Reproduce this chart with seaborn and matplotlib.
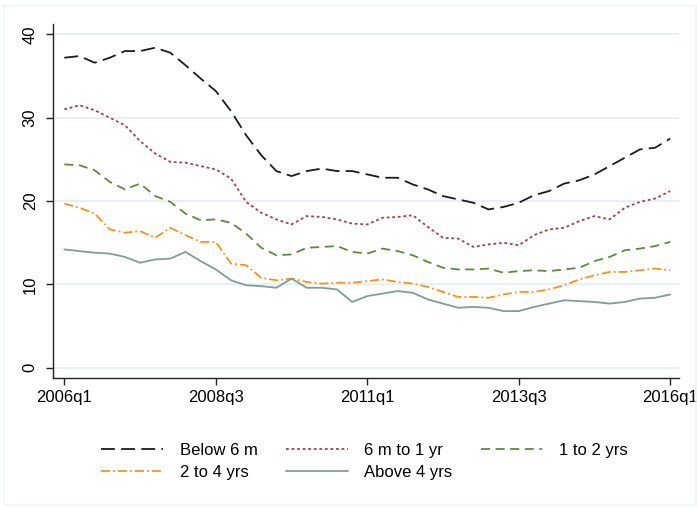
import numpy as np
import pandas as pd
import matplotlib.pyplot as plt
import matplotlib.patches as patches
import seaborn as sns

# series names (legend order)
groups = ["Below 6 m", "6 m to 1 yr", "1 to 2 yrs", "2 to 4 yrs", "Above 4 yrs"]

# quarterly values 2006q1 .. 2016q1 (41 quarters)
below_6m = [37.2, 37.4, 36.6, 37.2, 38.0, 38.0, 38.4, 37.8, 36.3, 34.7, 33.2, 30.8, 27.9, 25.5,
            23.6, 23.0, 23.6, 23.9, 23.6, 23.6, 23.2, 22.8, 22.8, 22.0, 21.4, 20.6, 20.2, 19.8,
            19.0, 19.3, 19.8, 20.7, 21.2, 22.1, 22.5, 23.2, 24.2, 25.2, 26.2, 26.4, 27.5]
m6_to_1y = [31.0, 31.5, 30.9, 30.0, 29.1, 27.2, 25.7, 24.7, 24.6, 24.2, 23.8, 22.7, 19.9, 18.6,
            17.8, 17.2, 18.2, 18.1, 17.8, 17.3, 17.2, 18.0, 18.1, 18.3, 16.9, 15.6, 15.5, 14.5,
            14.8, 15.0, 14.7, 15.9, 16.6, 16.8, 17.6, 18.2, 17.8, 19.2, 19.9, 20.3, 21.2]
y1_to_2 = [24.4, 24.3, 23.7, 22.3, 21.4, 22.1, 20.6, 19.9, 18.5, 17.7, 17.8, 17.4, 16.1, 14.4,
           13.5, 13.6, 14.4, 14.5, 14.6, 13.9, 13.7, 14.3, 14.0, 13.5, 12.7, 12.0, 11.8, 11.8,
           11.9, 11.4, 11.6, 11.7, 11.6, 11.8, 12.0, 12.8, 13.3, 14.1, 14.3, 14.6, 15.1]
y2_to_4 = [19.7, 19.2, 18.5, 16.6, 16.2, 16.4, 15.6, 16.8, 15.9, 15.1, 15.1, 12.5, 12.3, 10.8,
           10.5, 10.7, 10.3, 10.1, 10.2, 10.2, 10.4, 10.6, 10.3, 10.1, 9.7, 9.1, 8.5, 8.5,
           8.4, 8.8, 9.1, 9.1, 9.4, 9.9, 10.6, 11.1, 11.5, 11.5, 11.7, 11.9, 11.7]
above_4y = [14.2, 14.0, 13.8, 13.7, 13.3, 12.6, 13.0, 13.1, 13.9, 12.8, 11.8, 10.5, 9.9, 9.8,
            9.6, 10.7, 9.6, 9.6, 9.4, 7.9, 8.6, 8.9, 9.2, 9.0, 8.2, 7.7, 7.2, 7.3,
            7.2, 6.8, 6.8, 7.3, 7.7, 8.1, 8.0, 7.9, 7.7, 7.9, 8.3, 8.4, 8.8]

quarters = [f"{y}q{q}" for y in range(2006, 2017) for q in range(1, 5)][:41]
tick_labels = ["2006q1", "2008q3", "2011q1", "2013q3", "2016q1"]
y_ticks = [0, 10, 20, 30, 40]

series = [below_6m, m6_to_1y, y1_to_2, y2_to_4, above_4y]
df = pd.concat([
    pd.DataFrame({"t": np.arange(len(quarters)), "quarter": quarters, "value": vals, "group": g})
    for g, vals in zip(groups, series)
], ignore_index=True)

colors = {"Below 6 m": "#1c1c1c", "6 m to 1 yr": "#a4404b", "1 to 2 yrs": "#5e8a3e",
          "2 to 4 yrs": "#f29424", "Above 4 yrs": "#7e9e97"}
dashes = {"Below 6 m": (10, 4.5), "6 m to 1 yr": (2, 2), "1 to 2 yrs": (6.5, 4),
          "2 to 4 yrs": (6.5, 2.2, 1.3, 2.2), "Above 4 yrs": ""}

sns.set_style("ticks")
plt.rcParams['font.family'] = ['Liberation Sans', 'DejaVu Sans']
plt.rcParams['lines.scale_dashes'] = False
plt.rcParams['text.color'] = 'black'

fig = plt.figure(figsize=(6.97, 5.08), dpi=100)
ax = fig.add_axes([0.076, 0.2565, 0.898, 0.6955])

sns.lineplot(data=df, x="t", y="value", hue="group", style="group",
             hue_order=groups, style_order=groups, palette=colors, dashes=dashes,
             linewidth=1.3, ax=ax)

ax.set_xlim(-0.75, 40.57)
ax.set_ylim(-1.19, 41.2)
ax.set_xticks([quarters.index(l) for l in tick_labels])
ax.set_xticklabels(tick_labels)
ax.set_yticks(y_ticks)
ax.set_yticklabels([str(v) for v in y_ticks], rotation=90, va="center")
ax.set_xlabel("")
ax.set_ylabel("")

ax.grid(axis="y", color="#e4eef2", linewidth=1.2)
ax.set_axisbelow(True)
sns.despine(ax=ax)
for s in ["left", "bottom"]:
    ax.spines[s].set_color("#222222")
    ax.spines[s].set_linewidth(1.0)
ax.tick_params(axis="both", length=5, width=1.0, color="#222222", labelcolor="black",
               labelsize=12, pad=4)
ax.tick_params(axis="y", pad=6)

# legend laid out row by row like the original
handles, labels = ax.get_legend_handles_labels()
order = [0, 3, 1, 4, 2]
ax.legend([handles[i] for i in order], [labels[i] for i in order],
          ncol=3, frameon=False, fontsize=12, loc="center",
          bbox_to_anchor=(0.523, 0.0915), bbox_transform=fig.transFigure,
          handlelength=3.7, handletextpad=1.0, columnspacing=1.7, labelspacing=0.4)

# faint outer frame of the graph region
fig.patches.append(patches.Rectangle((0.006, 0.006), 0.992, 0.982, transform=fig.transFigure,
                                     fill=False, edgecolor="#eef3f5", linewidth=1.2))

fig.savefig("out.png", dpi=100)
